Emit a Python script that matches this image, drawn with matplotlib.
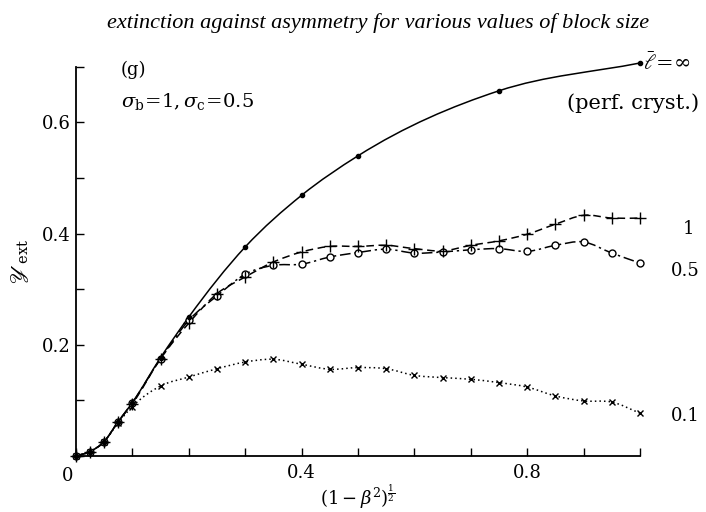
import numpy as np
import matplotlib.pyplot as plt
from matplotlib.path import Path
from matplotlib.patches import PathPatch
from matplotlib.ticker import MultipleLocator

plt.rcParams['font.family'] = ['DejaVu Serif']
plt.rcParams['mathtext.fontset'] = 'dejavuserif'

# extinction for perfect crystal (l = infinity)
x_inf = [0, 0.025, 0.05, 0.075, 0.1, 0.15, 0.2, 0.3, 0.4, 0.5, 0.75, 1.0]
y_inf = [0, 0.008, 0.026, 0.062, 0.096, 0.177, 0.25, 0.376, 0.469, 0.54, 0.657, 0.707]

# block size l = 1
x_l1 = [0, 0.025, 0.05, 0.075, 0.1, 0.15, 0.2, 0.25, 0.3, 0.35, 0.4, 0.45, 0.5,
        0.55, 0.6, 0.65, 0.7, 0.75, 0.8, 0.85, 0.9, 0.95, 1.0]
y_l1 = [0, 0.008, 0.026, 0.062, 0.094, 0.175, 0.239, 0.292, 0.322, 0.349, 0.367,
        0.377, 0.377, 0.379, 0.373, 0.369, 0.379, 0.387, 0.399, 0.417, 0.433, 0.428, 0.428]

# block size l = 0.5
x_l05 = [0, 0.025, 0.05, 0.075, 0.1, 0.15, 0.2, 0.25, 0.3, 0.35, 0.4, 0.45, 0.5,
         0.55, 0.6, 0.65, 0.7, 0.75, 0.8, 0.85, 0.9, 0.95, 1.0]
y_l05 = [0, 0.008, 0.026, 0.062, 0.096, 0.175, 0.244, 0.288, 0.327, 0.343, 0.345,
         0.358, 0.366, 0.372, 0.365, 0.367, 0.371, 0.373, 0.368, 0.379, 0.385, 0.365, 0.347]

# block size l = 0.1
x_l01 = [0, 0.025, 0.05, 0.075, 0.1, 0.15, 0.2, 0.25, 0.3, 0.35, 0.4, 0.45, 0.5,
         0.55, 0.6, 0.65, 0.7, 0.75, 0.8, 0.85, 0.9, 0.95, 1.0]
y_l01 = [0, 0.008, 0.026, 0.06, 0.089, 0.126, 0.142, 0.157, 0.169, 0.174, 0.165,
         0.156, 0.159, 0.157, 0.145, 0.141, 0.138, 0.132, 0.124, 0.108, 0.099, 0.097, 0.077]


def smooth_path(x, y):
    # cubic Hermite segments through the measured points, written as Bezier curves
    x = np.asarray(x, float)
    y = np.asarray(y, float)
    h = np.diff(x)
    d = np.diff(y) / h
    m = np.empty_like(y)
    m[0], m[-1] = d[0], d[-1]
    m[1:-1] = (h[:-1] * d[1:] + h[1:] * d[:-1]) / (h[:-1] + h[1:])
    verts = [(x[0], y[0])]
    codes = [Path.MOVETO]
    for i in range(len(h)):
        verts += [(x[i] + h[i] / 3, y[i] + m[i] * h[i] / 3),
                  (x[i + 1] - h[i] / 3, y[i + 1] - m[i + 1] * h[i] / 3),
                  (x[i + 1], y[i + 1])]
        codes += [Path.CURVE4] * 3
    return Path(verts, codes)


fig = plt.figure(figsize=(7.06, 5.12), dpi=100)
ax = fig.add_axes([0.1076, 0.1094, 0.799, 0.760])

lw = 1.1
series = [
    (x_l01, y_l01, (0, (1, 2)), dict(marker='x', ms=5, mew=1.0)),
    (x_l05, y_l05, (0, (7, 2.5, 1.5, 2.5)), dict(marker='o', ms=5, mfc='white', mew=1.0)),
    (x_l1, y_l1, (0, (5, 3)), dict(marker='+', ms=8, mew=1.0)),
    (x_inf, y_inf, '-', dict(marker='o', ms=3)),
]
for xs, ys, style, mk in series:
    ax.add_patch(PathPatch(smooth_path(xs, ys), fill=False, edgecolor='black', lw=lw,
                           ls=style, clip_on=False))
    ax.plot(xs, ys, ls='none', color='black', clip_on=False, zorder=3, **mk)

ax.set_xlim(0, 1.0)
ax.set_ylim(0, 0.7)
for s in ['top', 'right']:
    ax.spines[s].set_visible(False)
for s in ['left', 'bottom']:
    ax.spines[s].set_linewidth(1.3)

ax.xaxis.set_major_locator(MultipleLocator(0.4))
ax.xaxis.set_minor_locator(MultipleLocator(0.1))
ax.yaxis.set_major_locator(MultipleLocator(0.2))
ax.yaxis.set_minor_locator(MultipleLocator(0.1))
ax.tick_params(which='both', direction='in', length=6, width=1.0, labelsize=13)
ax.tick_params(axis='x', pad=6)
ax.set_xticks([0.4, 0.8])
ax.set_xticklabels(['0.4', '0.8'])
ax.set_yticks([0.2, 0.4, 0.6])
ax.set_yticklabels(['0.2', '0.4', '0.6'])
ax.text(-0.015, -0.02, '0', transform=ax.transData, ha='center', va='top', fontsize=13)

ax.set_xlabel(r'$(1-\beta^2)^{\frac{1}{2}}$', fontsize=13, labelpad=0)
ax.set_ylabel(r'$\mathscr{Y}_{\,\mathrm{ext}}$', fontsize=15, labelpad=8)

fig.text(0.535, 0.955, 'extinction against asymmetry for various values of block size',
         ha='center', va='center', style='italic', fontsize=16, family='Liberation Serif')

ax.text(0.08, 0.695, '(g)', fontsize=13, va='center')
ax.text(0.08, 0.637, r'$\sigma_{\mathrm{b}}\!=\!1, \sigma_{\mathrm{c}}\!=\!0.5$', fontsize=14,
        va='center')
ax.text(1.105, 0.635, '(perf. cryst.)', fontsize=15, ha='right', va='center')

ax.text(1.005, y_inf[-1], r'$\bar{\ell}\!=\!\infty$', fontsize=15, va='center', ha='left')
ax.text(1.075, y_l1[-1] - 0.02, '1', fontsize=13, va='center')
ax.text(1.055, y_l05[-1] - 0.015, '0.5', fontsize=13, va='center')
ax.text(1.055, y_l01[-1] - 0.005, '0.1', fontsize=13, va='center')

fig.savefig('out.png', dpi=100)
